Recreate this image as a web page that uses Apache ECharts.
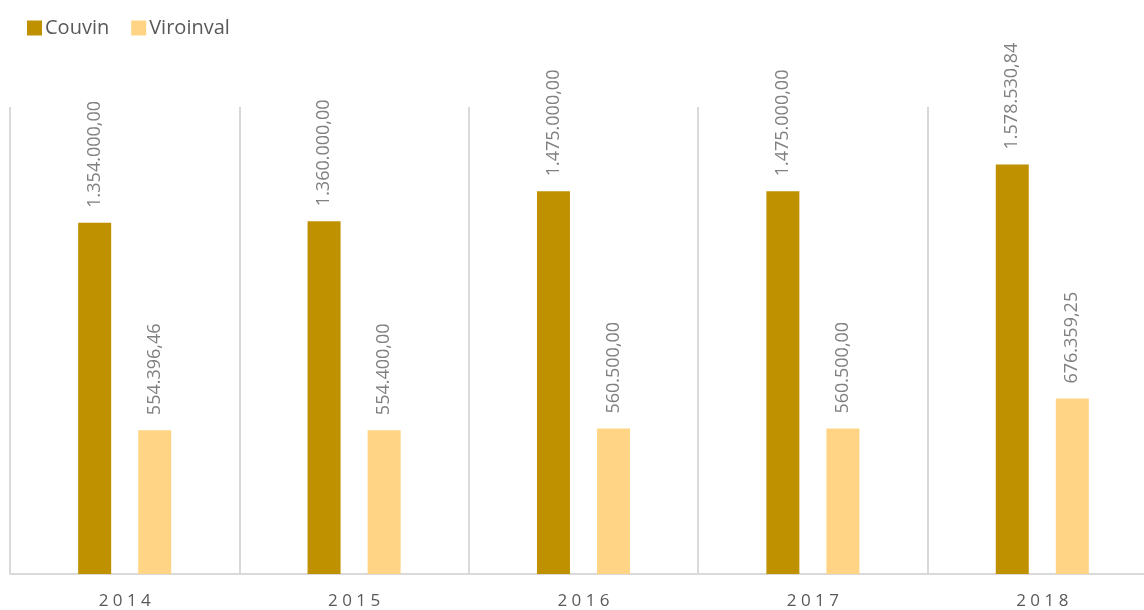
<!DOCTYPE html>
<html>
<head>
<meta charset="utf-8">
<script src="https://cdn.jsdelivr.net/npm/echarts@6/dist/echarts.min.js"></script>
<style>
  html, body { margin: 0; padding: 0; background: #fff; }
  #chart { width: 1144px; height: 610px; }
</style>
</head>
<body>
<div id="chart"></div>
<script>
// données
var years = ['2014', '2015', '2016', '2017', '2018'];
var couvin = [1354000, 1360000, 1475000, 1475000, 1578530.84];
var viroinval = [554396.46, 554400, 560500, 560500, 676359.25];

// format belge : 1.354.000,00
function fmt(v) {
  var parts = v.toFixed(2).split('.');
  var ent = parts[0].replace(/\B(?=(\d{3})+(?!\d))/g, '.');
  return ent + ',' + parts[1];
}

var font = '"Open Sans", "Noto Sans", sans-serif';

var labelOpt = {
  show: true,
  position: 'top',
  rotate: 90,
  align: 'left',
  verticalAlign: 'middle',
  distance: 15,
  color: '#808080',
  fontFamily: font,
  fontSize: 18,
  formatter: function (p) { return fmt(p.value); }
};

var chart = echarts.init(document.getElementById('chart'));

var option = {
  animation: false,
  textStyle: { fontFamily: font },
  legend: {
    left: 22,
    top: 13,
    itemWidth: 15,
    itemHeight: 15,
    itemGap: 22,
    icon: 'rect',
    textStyle: { color: '#595959', fontSize: 20, fontFamily: font, padding: [0, 0, 0, -2] },
    data: ['Couvin', 'Viroinval']
  },
  grid: { left: 10, width: 1147, top: 107, bottom: 36, outerBoundsMode: 'none' },
  xAxis: {
    type: 'category',
    data: years,
    axisLine: { lineStyle: { color: '#d9d9d9', width: 2 } },
    axisTick: { show: false },
    splitLine: { show: true, lineStyle: { color: '#d9d9d9', width: 2 } },
    axisLabel: {
      color: '#595959',
      fontSize: 17,
      margin: 19,
      fontFamily: font,
      formatter: function (v) { return v.split('').join(' '); }
    }
  },
  yAxis: {
    type: 'value',
    min: 0,
    max: 1800000,
    show: false,
    splitLine: { show: false }
  },
  series: [
    {
      name: 'Couvin',
      type: 'bar',
      data: couvin,
      barWidth: 33,
      barGap: '82%',
      itemStyle: { color: '#BF9000' },
      label: labelOpt
    },
    {
      name: 'Viroinval',
      type: 'bar',
      data: viroinval,
      barWidth: 33,
      itemStyle: { color: '#FFD585' },
      label: labelOpt
    }
  ]
};

chart.setOption(option);
</script>
</body>
</html>
